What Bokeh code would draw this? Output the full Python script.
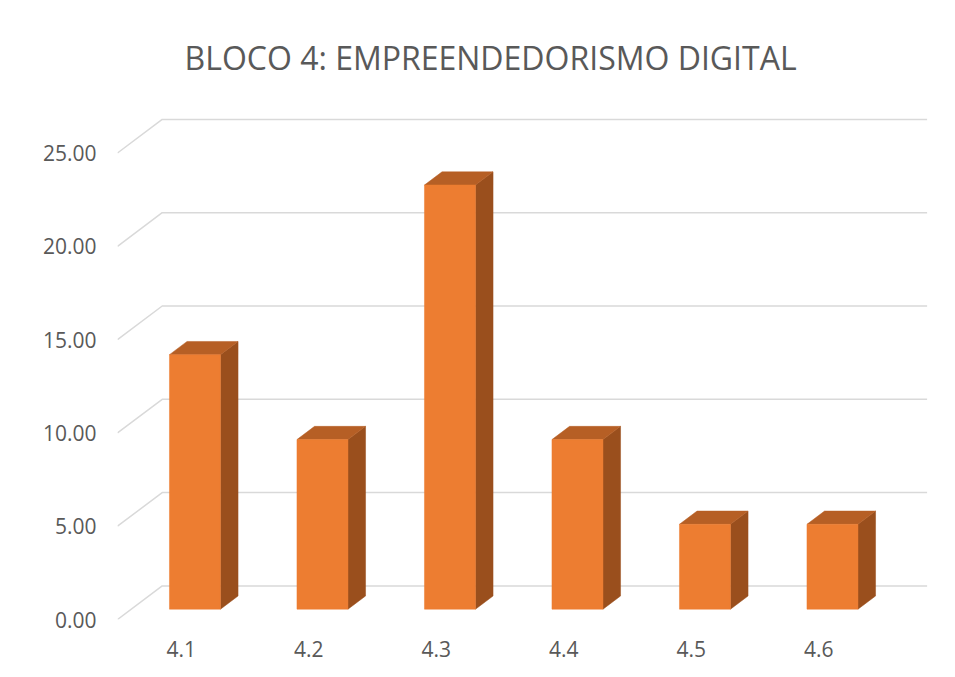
from bokeh.plotting import figure
from bokeh.models import Range1d, FixedTicker, PrintfTickFormatter
from bokeh.embed import file_html
from bokeh.resources import INLINE

# ---- data ----
categories = ["4.1", "4.2", "4.3", "4.4", "4.5", "4.6"]
values = [13.64, 9.09, 22.73, 9.09, 4.55, 4.55]
y_ticks = [0, 5, 10, 15, 20, 25]
title_text = "BLOCO 4: EMPREENDEDORISMO DIGITAL"

# ---- geometry (pseudo 3-D) ----
W, H = 939, 667
FL, FR, FT, FB = 117, 927, 95, 619          # frame edges in canvas px
PX_CAT = 127.5                              # px per category (front plane)
PX_VAL = 18.66                              # px per value unit
DX = 44.7 / PX_CAT                          # depth shift in x (category units)
DY = 33.6 / PX_VAL                          # depth shift in y (value units)
F0, F1 = 0.307, 0.70                        # bar depth fractions (front/back)
BAR_W = 0.4

n = len(categories)
p = figure(width=W, height=H, output_backend="svg", toolbar_location=None,
           x_range=Range1d(0, (FR - FL) / PX_CAT),
           y_range=Range1d(0, (FB - FT) / PX_VAL),
           min_border_left=FL, min_border_right=W - FR,
           min_border_top=FT, min_border_bottom=H - FB,
           title=title_text)
p.outline_line_color = None
p.background_fill_color = "white"
p.border_fill_color = "white"
p.xgrid.visible = False
p.ygrid.visible = False

p.title.text_font = "Open Sans"
p.title.text_font_size = "32px"
p.title.text_font_style = "normal"
p.title.text_color = "#595959"
p.title.align = "left"
p.title.offset = 67
p.title.standoff = 34

# gridlines: front diagonal then back horizontal
gx = [[0, DX, n + DX] for t in y_ticks]
gy = [[t, t + DY, t + DY] for t in y_ticks]
p.multi_line(gx, gy, line_color="#D9D9D9", line_width=1.5)

# bars
ddx = (F1 - F0) * DX
ddy = (F1 - F0) * DY
lefts, rights, bottoms, tops = [], [], [], []
side_x, side_y, top_x, top_y = [], [], [], []
for i, v in enumerate(values):
    l = i + 0.5 - BAR_W / 2 + F0 * DX
    r = l + BAR_W
    b = F0 * DY
    t = b + v
    lefts.append(l); rights.append(r); bottoms.append(b); tops.append(t)
    side_x.append([r, r + ddx, r + ddx, r])
    side_y.append([b, b + ddy, t + ddy, t])
    top_x.append([l, r, r + ddx, l + ddx])
    top_y.append([t, t, t + ddy, t + ddy])

p.patches(side_x, side_y, fill_color="#9A4F1D", line_color="#9A4F1D", line_width=0.5)
p.patches(top_x, top_y, fill_color="#B65F25", line_color="#B65F25", line_width=0.5)
p.quad(left=lefts, right=rights, bottom=bottoms, top=tops,
       fill_color="#ED7D31", line_color="#ED7D31", line_width=0.5)

# axes
p.yaxis.ticker = FixedTicker(ticks=y_ticks)
p.yaxis.formatter = PrintfTickFormatter(format="%.2f")
p.xaxis.ticker = FixedTicker(ticks=[i + 0.5 for i in range(n)])
p.xaxis.major_label_overrides = {i + 0.5: c for i, c in enumerate(categories)}
for ax in (p.xaxis[0], p.yaxis[0]):
    ax.axis_line_color = None
    ax.major_tick_line_color = None
    ax.minor_tick_line_color = None
    ax.major_tick_out = 0
    ax.major_tick_in = 0
    ax.major_label_text_color = "#595959"
    ax.major_label_text_font = "Open Sans"
    ax.major_label_text_font_size = "21px"
p.yaxis.major_label_standoff = 21
p.xaxis.major_label_standoff = 21

open("out.html", "w").write(file_html(p, INLINE))
